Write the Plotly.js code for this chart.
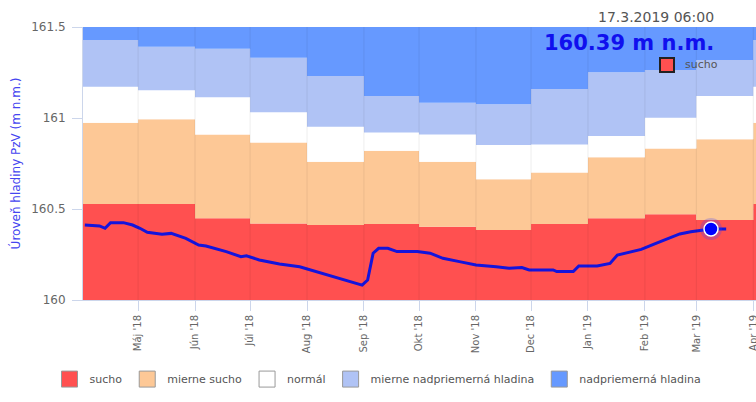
<!DOCTYPE html>
<html><head><meta charset="utf-8">
<script src="https://cdn.plot.ly/plotly-3.0.1.min.js"></script>
<style>html,body{margin:0;padding:0;background:#fff;}#chart{width:756px;height:402px;}</style>
</head><body><div id="chart"></div>
<script>
// Monthly band boundaries (upper limits, m n.m.)
const bandMonths = ["2018-04-01","2018-05-01","2018-06-01","2018-07-01","2018-08-01","2018-09-01","2018-10-01","2018-11-01","2018-12-01","2019-01-01","2019-02-01","2019-03-01","2019-04-01"];
const bandEnd = "2019-05-01";
const bandBottom = [160,160,160,160,160,160,160,160,160,160,160,160,160];
const suchoTop = [160.527,160.527,160.449,160.421,160.412,160.418,160.403,160.385,160.418,160.449,160.471,160.440,160.527];
const mierneSuchoTop = [160.974,160.993,160.910,160.865,160.760,160.820,160.760,160.663,160.700,160.784,160.833,160.883,160.974];
const normalTop = [161.172,161.152,161.114,161.031,160.952,160.921,160.910,160.852,160.855,160.901,161.002,161.121,161.172];
const mierneNadTop = [161.429,161.392,161.381,161.331,161.231,161.121,161.084,161.075,161.159,161.251,161.264,161.319,161.429];
const nadTop = [161.5,161.5,161.5,161.5,161.5,161.5,161.5,161.5,161.5,161.5,161.5,161.5,161.5];

const bandNames = ["sucho","mierne sucho","normál","mierne nadpriemerná hladina","nadpriemerná hladina"];
const bandColors = ["#FF5050","#FDC896","#FFFFFF","#B0C3F5","#6699FF"];

// Water level series
const levelDates = ["2018-04-02","2018-04-10","2018-04-13","2018-04-16","2018-04-23","2018-04-28","2018-05-02","2018-05-06","2018-05-14","2018-05-19","2018-05-27","2018-06-03","2018-06-07","2018-06-18","2018-06-26","2018-06-29","2018-07-06","2018-07-17","2018-07-28","2018-08-06","2018-08-19","2018-08-31","2018-09-03","2018-09-06","2018-09-09","2018-09-14","2018-09-19","2018-09-30","2018-10-07","2018-10-14","2018-10-23","2018-11-01","2018-11-12","2018-11-19","2018-11-26","2018-11-30","2018-12-13","2018-12-15","2018-12-24","2018-12-27","2019-01-06","2019-01-13","2019-01-17","2019-01-22","2019-01-30","2019-02-07","2019-02-14","2019-02-20","2019-02-26","2019-03-04","2019-03-09","2019-03-17 06:00"];
const levelValues = [160.412,160.407,160.394,160.425,160.425,160.412,160.394,160.372,160.361,160.366,160.339,160.302,160.297,160.266,160.238,160.243,160.220,160.198,160.183,160.156,160.119,160.082,160.110,160.257,160.284,160.284,160.266,160.266,160.257,160.229,160.211,160.192,160.183,160.174,160.178,160.165,160.165,160.156,160.156,160.187,160.187,160.201,160.247,160.260,160.278,160.311,160.339,160.363,160.375,160.385,160.39,160.39];

const currentDate = ["2019-03-09"];
const currentValue = [160.39];
const currentLabel = "17.3.2019 06:00";
const currentText = "160.39 m n.m.";
const currentClass = "sucho";

const tickDates = ["2018-05-01","2018-06-01","2018-07-01","2018-08-01","2018-09-01","2018-10-01","2018-11-01","2018-12-01","2019-01-01","2019-02-01","2019-03-01","2019-04-01"];
const tickLabels = ["Máj '18","Jún '18","Júl '18","Aug '18","Sep '18","Okt '18","Nov '18","Dec '18","Jan '19","Feb '19","Mar '19","Apr '19"];
const yTicks = [160,160.5,161,161.5];
const yTickLabels = ["160","160.5","161","161.5"];

const FONT = "DejaVu Sans, Verdana, sans-serif";
const xs = bandMonths.concat([bandEnd]);
const ext = a => a.concat([a[a.length-1]]);

const traces = [];
traces.push({x: xs, y: ext(bandBottom), mode:"lines", line:{width:0, shape:"hv"}, showlegend:false, hoverinfo:"skip"});
[suchoTop, mierneSuchoTop, normalTop, mierneNadTop, nadTop].forEach((arr,i)=>{
  traces.push({x: xs, y: ext(arr), mode:"lines", line:{width:0, shape:"hv"}, fill:"tonexty", fillcolor:bandColors[i], showlegend:false, hoverinfo:"skip"});
});
traces.push({x: levelDates, y: levelValues, mode:"lines", line:{color:"#1414DC", width:3}, showlegend:false, hoverinfo:"skip"});
traces.push({x: currentDate, y: currentValue, mode:"markers", marker:{size:22, color:"rgba(60,60,255,0.25)"}, showlegend:false, hoverinfo:"skip"});
traces.push({x: currentDate, y: currentValue, mode:"markers", marker:{size:14, color:"#0000FF", line:{color:"#FFFFFF", width:1.5}}, showlegend:false, hoverinfo:"skip"});
bandNames.forEach((n,i)=>{
  traces.push({x:[null], y:[null], mode:"markers", name:n, marker:{symbol:"square", size:16, color:bandColors[i], line:{color:"#999999", width:1}}, showlegend:true});
});

const shapes = tickDates.map(d => ({type:"line", xref:"x", yref:"paper", x0:d, x1:d, y0:0, y1:1, layer:"above", line:{color:"rgba(0,0,0,0.07)", width:1}}));

const layout = {
  width:756, height:402,
  margin:{l:83, r:0, t:27, b:102, pad:0},
  paper_bgcolor:"#fff", plot_bgcolor:"#fff",
  font:{family:FONT, color:"#666"},
  showlegend:true,
  legend:{orientation:"h", traceorder:"normal", xref:"container", x:0.5, xanchor:"center", yref:"container", y:0.057, yanchor:"middle", font:{size:11, color:"#555", family:FONT}, itemwidth:30, bgcolor:"rgba(0,0,0,0)"},
  xaxis:{type:"date", range:["2018-04-01","2019-04-02 12:00"], tickmode:"array", tickvals:tickDates, ticktext:tickLabels, tickangle:-90, ticks:"outside", ticklen:10, tickcolor:"#ccd6eb", ticklabeloverflow:"allow", tickfont:{size:10, color:"#666", family:FONT}, showgrid:false, showline:true, linecolor:"#ccd6eb", zeroline:false, fixedrange:true},
  yaxis:{range:[160,161.5], tickmode:"array", tickvals:yTicks, ticktext:yTickLabels, ticks:"outside", ticklen:10, tickcolor:"#ccd6eb", ticklabelstandoff:4, tickfont:{size:12, color:"#666", family:FONT}, showgrid:true, gridcolor:"#e6e6e6", showline:true, linecolor:"#ccd6eb", zeroline:false, fixedrange:true,
    title:{text:"Úroveň hladiny PzV (m n.m.)", font:{size:12, color:"#4545F0", family:FONT}, standoff:8}},
  shapes: shapes,
  annotations:[
    {xref:"paper", yref:"paper", x:0.9406, y:1.0366, xanchor:"right", yanchor:"middle", text:currentLabel, showarrow:false, font:{size:14, color:"#555", family:FONT}},
    {xref:"paper", yref:"paper", x:0.9406, y:0.9414, xanchor:"right", yanchor:"middle", text:"<b>"+currentText+"</b>", showarrow:false, font:{size:21, color:"#1010EE", family:FONT}},
    {xref:"paper", yref:"paper", x:0.8678, y:0.8626, xanchor:"center", yanchor:"middle", text:" ", width:12, height:12, borderpad:0, bgcolor:bandColors[0], bordercolor:"#222", borderwidth:2, showarrow:false, font:{size:8}},
    {xref:"paper", yref:"paper", x:0.8915, y:0.8626, xanchor:"left", yanchor:"middle", text:currentClass, showarrow:false, font:{size:11, color:"#555", family:FONT}}
  ]
};
Plotly.newPlot("chart", traces, layout, {displayModeBar:false, staticPlot:true});
</script></body></html>
